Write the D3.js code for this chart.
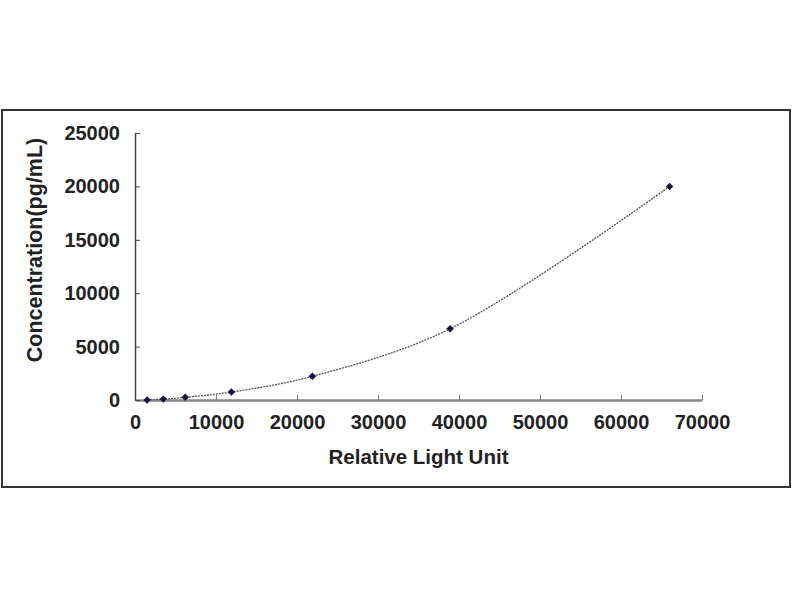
<!DOCTYPE html>
<html>
<head>
<meta charset="utf-8">
<script src="https://cdn.jsdelivr.net/npm/d3@7"></script>
<style>
  body { margin: 0; background: #fff; }
  text { font-family: "Liberation Sans", Arial, sans-serif; font-weight: bold; fill: #222; }
</style>
</head>
<body>
<svg id="chart" width="800" height="600"></svg>
<script>
// Standard curve: relative light unit vs concentration (3-fold dilution series)
const rlu   = [1500, 3500, 6200, 11900, 21900, 38900, 66000];
const conc  = [0, 82.3, 246.9, 740.7, 2222.2, 6666.7, 20000];
const xTicks = [0, 10000, 20000, 30000, 40000, 50000, 60000, 70000];
const yTicks = [0, 5000, 10000, 15000, 20000, 25000];

const FONT = 20;
const svg = d3.select("#chart");

// outer frame
svg.append("rect")
  .attr("x", 2).attr("y", 110)
  .attr("width", 788).attr("height", 377)
  .attr("fill", "#fff")
  .attr("stroke", "#333")
  .attr("stroke-width", 2);

const x = d3.scaleLinear().domain([0, 70000]).range([135, 702]);
const y = d3.scaleLinear().domain([0, 25000]).range([400, 133]);

// x axis: gray baseline, ticks pointing up
const xAxis = svg.append("g")
  .attr("transform", `translate(0,${y(0)})`)
  .call(d3.axisBottom(x).tickValues(xTicks).tickSizeInner(-5).tickSizeOuter(0).tickPadding(15).tickFormat(d3.format("d")));
xAxis.select(".domain").attr("stroke", "#888").attr("stroke-width", 2.5);
xAxis.selectAll(".tick line").attr("stroke", "#777");
xAxis.selectAll("text").attr("font-size", FONT).attr("fill", "#222");

// y axis: ticks pointing right
const yAxis = svg.append("g")
  .attr("transform", `translate(${x(0)},0)`)
  .call(d3.axisLeft(y).tickValues(yTicks).tickSizeInner(-5).tickSizeOuter(0).tickPadding(15).tickFormat(d3.format("d")));
yAxis.select(".domain").attr("stroke", "#444").attr("stroke-width", 1.5);
yAxis.selectAll(".tick line").attr("stroke", "#444");
yAxis.selectAll("text").attr("font-size", FONT).attr("fill", "#222");
svg.selectAll(".tick text").style("font-family", "'Liberation Sans', Arial, sans-serif").style("font-weight", "bold");

// smoothed curve through the standards
const pts = rlu.map((v, i) => [v, conc[i]]);
const line = d3.line()
  .x(d => x(d[0]))
  .y(d => y(d[1]))
  .curve(d3.curveCatmullRom.alpha(0.5));

svg.append("path")
  .attr("d", line(pts))
  .attr("fill", "none")
  .attr("stroke", "#555")
  .attr("stroke-width", 1.3)
  .attr("stroke-dasharray", "2 1");

// diamond markers (square rotated 45°)
svg.selectAll(null)
  .data(pts)
  .enter()
  .append("path")
  .attr("d", d3.symbol(d3.symbolSquare, 28))
  .attr("transform", d => `translate(${x(d[0])},${y(d[1])}) rotate(45)`)
  .attr("fill", "#14143c");

// axis titles
svg.append("text")
  .attr("x", (x(0) + x(70000)) / 2)
  .attr("y", 464)
  .attr("text-anchor", "middle")
  .attr("font-size", 20.5)
  .text("Relative Light Unit");

svg.append("text")
  .attr("transform", `translate(42,250) rotate(-90)`)
  .attr("text-anchor", "middle")
  .attr("font-size", 21.5)
  .text("Concentration(pg/mL)");
</script>
</body>
</html>
